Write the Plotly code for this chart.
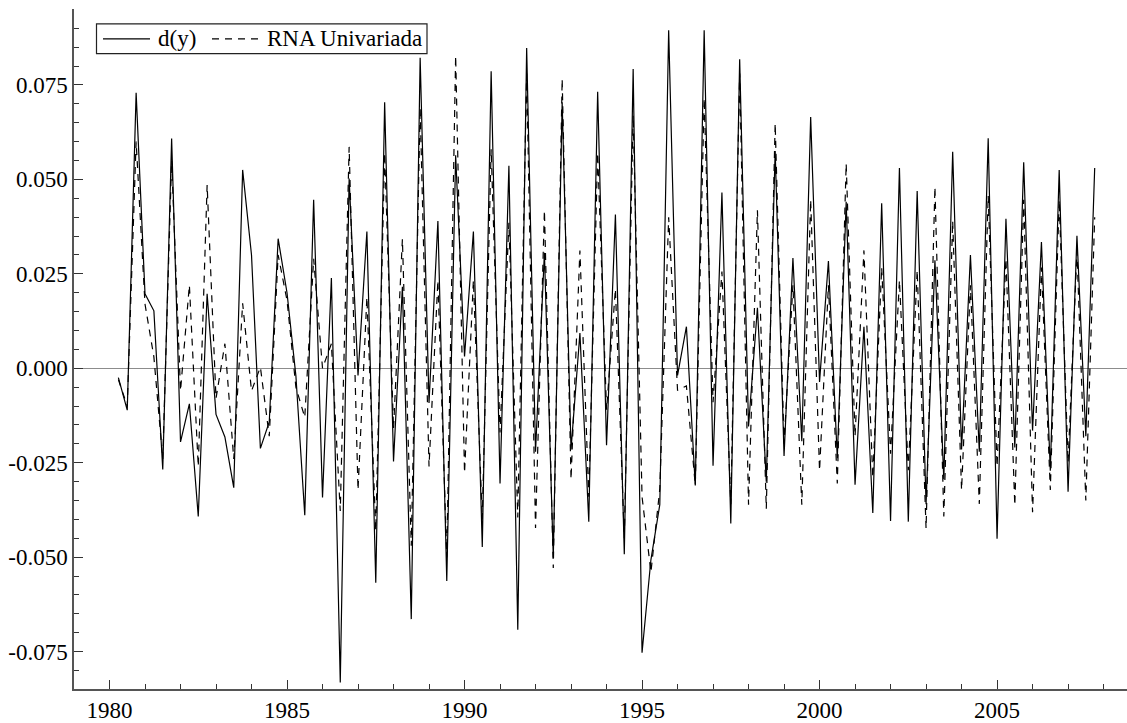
import plotly.graph_objects as go

# Quarterly observations from 1980Q2 to 2007Q4
start_year = 1980
start_quarter = 2

dy = [
    -0.0025, -0.0111, 0.0729,
    0.0197, 0.0152, -0.0268, 0.0608,
    -0.0195, -0.0094, -0.0392, 0.0197,
    -0.0122, -0.0182, -0.0316, 0.0525,
    0.0300, -0.0212, -0.0142, 0.0343,
    0.0200, -0.0020, -0.0389, 0.0446,
    -0.0342, 0.0239, -0.0832, 0.0502,
    -0.0019, 0.0362, -0.0568, 0.0704,
    -0.0247, 0.0216, -0.0664, 0.0822,
    -0.0092, 0.0390, -0.0563, 0.0564,
    0.0031, 0.0362, -0.0473, 0.0786,
    -0.0305, 0.0536, -0.0692, 0.0848,
    -0.0221, 0.0306, -0.0501, 0.0704,
    -0.0215, 0.0093, -0.0406, 0.0732,
    -0.0204, 0.0407, -0.0492, 0.0792,
    -0.0753, -0.0507, -0.0361, 0.0895,
    -0.0019, 0.0110, -0.0310, 0.0895,
    -0.0258, 0.0465, -0.0411, 0.0818,
    -0.0154, 0.0160, -0.0300, 0.0575,
    -0.0232, 0.0292, -0.0193, 0.0665,
    -0.0036, 0.0284, -0.0238, 0.0441,
    -0.0308, 0.0110, -0.0383, 0.0437,
    -0.0404, 0.0530, -0.0406, 0.0469,
    -0.0360, 0.0286, -0.0294, 0.0573,
    -0.0215, 0.0300, -0.0221, 0.0609,
    -0.0451, 0.0396, -0.0210, 0.0545,
    -0.0165, 0.0334, -0.0271, 0.0525,
    -0.0327, 0.0351, -0.0180, 0.0530,
]

rna = [
    -0.0030, -0.0100, 0.0600,
    0.0170, 0.0030, -0.0240, 0.0550,
    -0.0060, 0.0220, -0.0260, 0.0485,
    -0.0080, 0.0065, -0.0240, 0.0172,
    -0.0060, 0.0003, -0.0180, 0.0300,
    0.0180, -0.0050, -0.0130, 0.0290,
    0.0000, 0.0065, -0.0378, 0.0586,
    -0.0322, 0.0188, -0.0430, 0.0570,
    -0.0160, 0.0342, -0.0470, 0.0690,
    -0.0260, 0.0233, -0.0500, 0.0827,
    -0.0277, 0.0233, -0.0400, 0.0580,
    -0.0170, 0.0385, -0.0395, 0.0780,
    -0.0423, 0.0418, -0.0529, 0.0766,
    -0.0294, 0.0312, -0.0340, 0.0570,
    -0.0110, 0.0210, -0.0450, 0.0670,
    -0.0340, -0.0540, -0.0320, 0.0400,
    -0.0058, -0.0047, -0.0310, 0.0715,
    -0.0090, 0.0256, -0.0360, 0.0780,
    -0.0361, 0.0418, -0.0372, 0.0648,
    -0.0200, 0.0220, -0.0361, 0.0446,
    -0.0271, 0.0220, -0.0305, 0.0542,
    -0.0180, 0.0312, -0.0290, 0.0267,
    -0.0226, 0.0233, -0.0270, 0.0260,
    -0.0424, 0.0480, -0.0392, 0.0390,
    -0.0322, 0.0220, -0.0359, 0.0457,
    -0.0260, 0.0290, -0.0363, 0.0446,
    -0.0381, 0.0267, -0.0322, 0.0446,
    -0.0250, 0.0310, -0.0350, 0.0400,
]

series_names = ["d(y)", "RNA Univariada"]
y_tick_values = [-0.075, -0.05, -0.025, 0.0, 0.025, 0.05, 0.075]
y_tick_labels = ["-0.075", "-0.050", "-0.025", "0.000", "0.025", "0.050", "0.075"]

# time index (decimal years, quarter q plotted at year + (q-1)/4)
t = [start_year + (start_quarter - 1 + k) / 4 for k in range(len(dy))]

FONT = "Liberation Serif, Times New Roman, serif"
FS = 23
DASH = "7px,6px"

W, H = 1127, 723
ML, MR, MT, MB = 74, 0, 9, 29
PW, PH = W - ML - MR, H - MT - MB


def px(x):
    return (x - ML) / PW


def py(y):
    return (H - MB - y) / PH


fig = go.Figure()
fig.add_trace(go.Scatter(x=t, y=dy, mode="lines", name=series_names[0],
                         line=dict(color="black", width=1.2)))
fig.add_trace(go.Scatter(x=t, y=rna, mode="lines", name=series_names[1],
                         line=dict(color="black", width=1.2, dash=DASH)))

# legend box drawn manually (OxMetrics style)
ly0, ly1 = 24, 54
lmid = (ly0 + ly1) / 2
shapes = [
    dict(type="rect", xref="paper", yref="paper", x0=px(96.5), x1=px(427), y0=py(ly1), y1=py(ly0),
         line=dict(color="#222", width=1.2), fillcolor="white", layer="above"),
    dict(type="line", xref="paper", yref="paper", x0=px(103), x1=px(150), y0=py(lmid), y1=py(lmid),
         line=dict(color="black", width=1.2), layer="above"),
    dict(type="line", xref="paper", yref="paper", x0=px(212), x1=px(259), y0=py(lmid), y1=py(lmid),
         line=dict(color="black", width=1.2, dash=DASH), layer="above"),
]
annotations = [
    dict(xref="paper", yref="paper", x=px(156), y=py(lmid), text=series_names[0], showarrow=False,
         xanchor="left", yanchor="middle", font=dict(family=FONT, size=FS, color="black")),
    dict(xref="paper", yref="paper", x=px(265), y=py(lmid), text=series_names[1], showarrow=False,
         xanchor="left", yanchor="middle", font=dict(family=FONT, size=FS, color="black")),
]

fig.update_layout(
    width=W, height=H,
    margin=dict(l=ML, r=MR, t=MT, b=MB),
    paper_bgcolor="white", plot_bgcolor="white",
    font=dict(family=FONT, size=FS, color="black"),
    showlegend=False,
    shapes=shapes,
    annotations=annotations,
)

fig.update_xaxes(
    range=[1979.0, 2008.66],
    showgrid=False, zeroline=False,
    showline=True, linecolor="#555", linewidth=1.5,
    ticks="inside", ticklen=9, tickwidth=1, tickcolor="#333",
    tick0=1980, dtick=5, tickformat="d",
    minor=dict(ticks="inside", ticklen=5, tickwidth=1, tickcolor="#333", dtick=1, tick0=1980, showgrid=False),
    tickfont=dict(family=FONT, size=FS, color="black"),
)

fig.update_yaxes(
    range=[-0.0849, 0.0951],
    showgrid=False,
    zeroline=True, zerolinecolor="#8c8c8c", zerolinewidth=1,
    showline=True, linecolor="#555", linewidth=1.5,
    ticks="inside", ticklen=9, tickwidth=1, tickcolor="#333",
    tickvals=y_tick_values, ticktext=y_tick_labels,
    minor=dict(ticks="inside", ticklen=5, tickwidth=1, tickcolor="#333", dtick=0.005, tick0=0, showgrid=False),
    tickfont=dict(family=FONT, size=FS, color="black"),
)

fig.write_html("out.html")
